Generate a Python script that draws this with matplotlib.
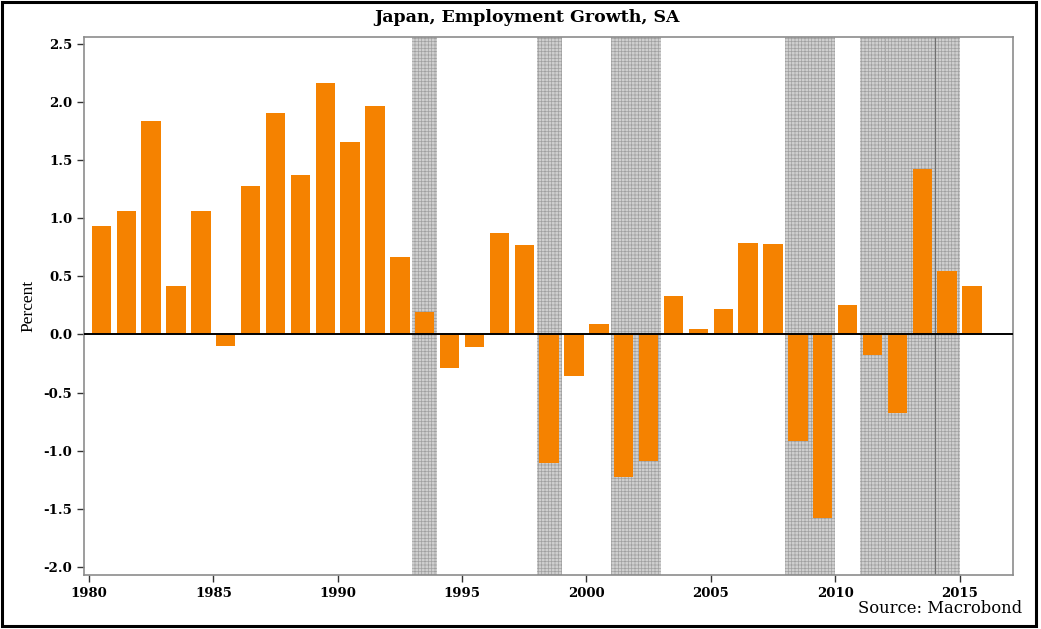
import matplotlib.pyplot as plt
from matplotlib.patches import Rectangle

# Annual employment growth, percent
years = list(range(1980, 2016))
growth = [0.93, 1.06, 1.84, 0.42, 1.06, -0.10, 1.28, 1.91, 1.37, 2.16,
          1.66, 1.97, 0.67, 0.19, -0.29, -0.11, 0.87, 0.77, -1.11, -0.36,
          0.09, -1.23, -1.09, 0.33, 0.05, 0.22, 0.79, 0.78, -0.92, -1.58,
          0.25, -0.18, -0.68, 1.42, 0.55, 0.42]

# Recession periods (start, end)
recessions = [(1993, 1994), (1998, 1999), (2001, 2003), (2008, 2010),
              (2011, 2012), (2012, 2014), (2014, 2015)]

plt.rcParams['hatch.linewidth'] = 0.5
plt.rcParams['hatch.color'] = '#a0a0a0'

fig = plt.figure(figsize=(10.41, 6.29), dpi=100)
ax = fig.add_axes([0.0807, 0.0859, 0.8924, 0.8553])

for start, end in recessions:
    ax.axvspan(start, end, facecolor='#cfcfcf', hatch='+++++', edgecolor='#a0a0a0',
               linewidth=0, zorder=0)
ax.axvline(2012, color='#a8a8a8', lw=0.6, zorder=0.5)
ax.axvline(2014, color='#707070', lw=0.8, zorder=0.5)

centers = [y + 0.5 for y in years]
ax.bar(centers, growth, width=0.78, color='#f58200', zorder=2)
ax.axhline(0, color='black', lw=1.4, zorder=3)

ax.set_xlim(1979.8, 2017.15)
ax.set_ylim(-2.07, 2.56)
ax.set_xticks(range(1980, 2016, 5))
ax.set_yticks([-2.0, -1.5, -1.0, -0.5, 0.0, 0.5, 1.0, 1.5, 2.0, 2.5])
ax.set_yticklabels([f"{v:.1f}" for v in ax.get_yticks()])

for s in ax.spines.values():
    s.set_color('#8c8c8c')
    s.set_linewidth(1.2)
ax.tick_params(direction='out', length=5, width=1, color='#333333',
               labelsize=9.5)
for lbl in ax.get_xticklabels() + ax.get_yticklabels():
    lbl.set_family('DejaVu Serif')
    lbl.set_weight('bold')

ax.set_ylabel("Percent", family='Liberation Serif', fontsize=12.5, labelpad=5)
fig.text(0.506, 0.972, "Japan, Employment Growth, SA", ha='center', va='center',
         family='DejaVu Serif', weight='bold', fontsize=12.5)
fig.text(0.982, 0.032, "Source: Macrobond", ha='right', va='center',
         family='DejaVu Serif', fontsize=11.8)

# Outer frame
fig.patches.append(Rectangle((0.002, 0.004), 0.993, 0.993, transform=fig.transFigure,
                             fill=False, edgecolor='black', lw=2.2))

fig.savefig('out.png', dpi=100)
